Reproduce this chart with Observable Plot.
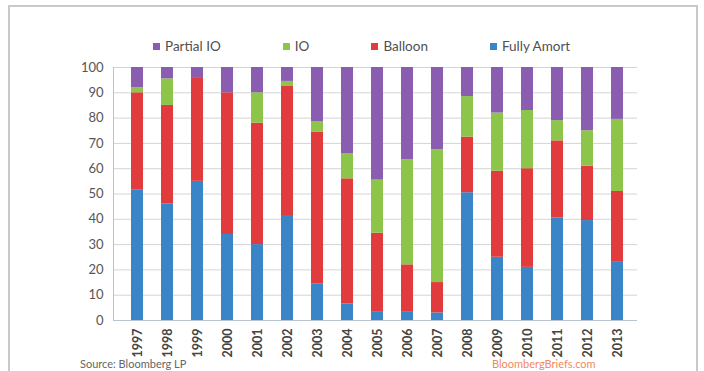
<!DOCTYPE html>
<html>
<head>
<meta charset="utf-8">
<script src="https://cdn.jsdelivr.net/npm/d3@7"></script>
<script src="https://cdn.jsdelivr.net/npm/@observablehq/plot@0.6"></script>
<style>
  html, body { margin: 0; padding: 0; background: #fff; }
  #wrap { position: relative; width: 704px; height: 371px; overflow: hidden; font-family: Lato, "Open Sans", sans-serif; }
  #frame { position: absolute; left: 8px; top: 5px; width: 690px; height: 420px; border: 2px solid #c9c9c9; box-sizing: border-box; }
  #chart { position: absolute; left: 0; top: 0; }
  #legend { position: absolute; left: 153px; top: 38px; display: flex; gap: 62px; font-size: 13.5px; color: #505050; }
  #legend .item { display: flex; align-items: center; gap: 5px; }
  #legend .sw { width: 7px; height: 7px; display: inline-block; }
  #source { position: absolute; left: 80px; top: 357px; font-size: 11px; line-height: 13px; color: #666; }
  #brand { position: absolute; left: 492px; top: 357px; font-size: 11px; line-height: 13px; color: #f08a5d; }
</style>
</head>
<body>
<div id="wrap">
  <div id="frame"></div>
  <div id="chart"></div>
  <div id="legend"></div>
  <div id="source">Source: Bloomberg LP</div>
  <div id="brand">BloombergBriefs.com</div>
</div>
<script>
const years = ["1997","1998","1999","2000","2001","2002","2003","2004","2005","2006","2007","2008","2009","2010","2011","2012","2013"];
const fullyAmort = [51.5, 46, 55, 34, 30, 41.5, 14.5, 6.5, 3.5, 3.5, 3, 50.5, 25, 21, 40.5, 39.5, 23];
const balloon    = [38.5, 39, 41, 56, 48, 51, 60, 49.5, 31, 18.5, 12, 22, 34, 39, 30.5, 21.5, 28];
const io         = [2, 10.5, 0, 0, 12, 2, 4, 10, 21, 41.5, 52.5, 16, 23, 23, 8, 14, 28.5];
const partialIO  = [8, 4.5, 4, 10, 10, 5.5, 21.5, 34, 44.5, 36.5, 32.5, 11.5, 18, 17, 21, 25, 20.5];

const seriesNames = ["Fully Amort", "Balloon", "IO", "Partial IO"];
const seriesValues = [fullyAmort, balloon, io, partialIO];
const seriesColors = ["#3a84c8", "#e23b3d", "#8cc54a", "#8a5db0"];
const legendOrder = ["Partial IO", "IO", "Balloon", "Fully Amort"];
const yTicks = [0, 10, 20, 30, 40, 50, 60, 70, 80, 90, 100];

const data = [];
seriesNames.forEach((s, si) => {
  years.forEach((y, i) => data.push({year: y, series: s, value: seriesValues[si][i]}));
});

const chart = Plot.plot({
  width: 704,
  height: 371,
  marginTop: 67,
  marginBottom: 51,
  marginLeft: 113,
  marginRight: 67,
  style: {fontFamily: "Lato, 'Open Sans', sans-serif", background: "transparent"},
  x: {domain: years, paddingInner: 0.6, paddingOuter: 0.35, align: 0.56, label: null},
  y: {domain: [0, 100], ticks: yTicks, label: null},
  color: {domain: seriesNames, range: seriesColors},
  marks: [
    Plot.gridY(yTicks, {stroke: "#d4d4d4", strokeOpacity: 1, strokeWidth: 1}),
    Plot.axisY(yTicks, {tickSize: 0, tickPadding: 10, fontSize: 13, fill: "#555", label: null}),
    Plot.frame({anchor: "left", stroke: "#b8c4d0"}),
    Plot.ruleY([0], {stroke: "#b8c4d0"}),
    Plot.barY(data, {x: "year", y: "value", fill: "series", order: seriesNames}),
    Plot.axisX({tickRotate: -90, tickSize: 0, tickPadding: 8, fontSize: 12.5, fill: "#444", fontWeight: "bold", label: null})
  ]
});
document.getElementById("chart").appendChild(chart);

const legend = document.getElementById("legend");
legendOrder.forEach(name => {
  const item = document.createElement("div");
  item.className = "item";
  const sw = document.createElement("span");
  sw.className = "sw";
  sw.style.background = seriesColors[seriesNames.indexOf(name)];
  const t = document.createElement("span");
  t.textContent = name;
  item.appendChild(sw);
  item.appendChild(t);
  legend.appendChild(item);
});
</script>
</body>
</html>
